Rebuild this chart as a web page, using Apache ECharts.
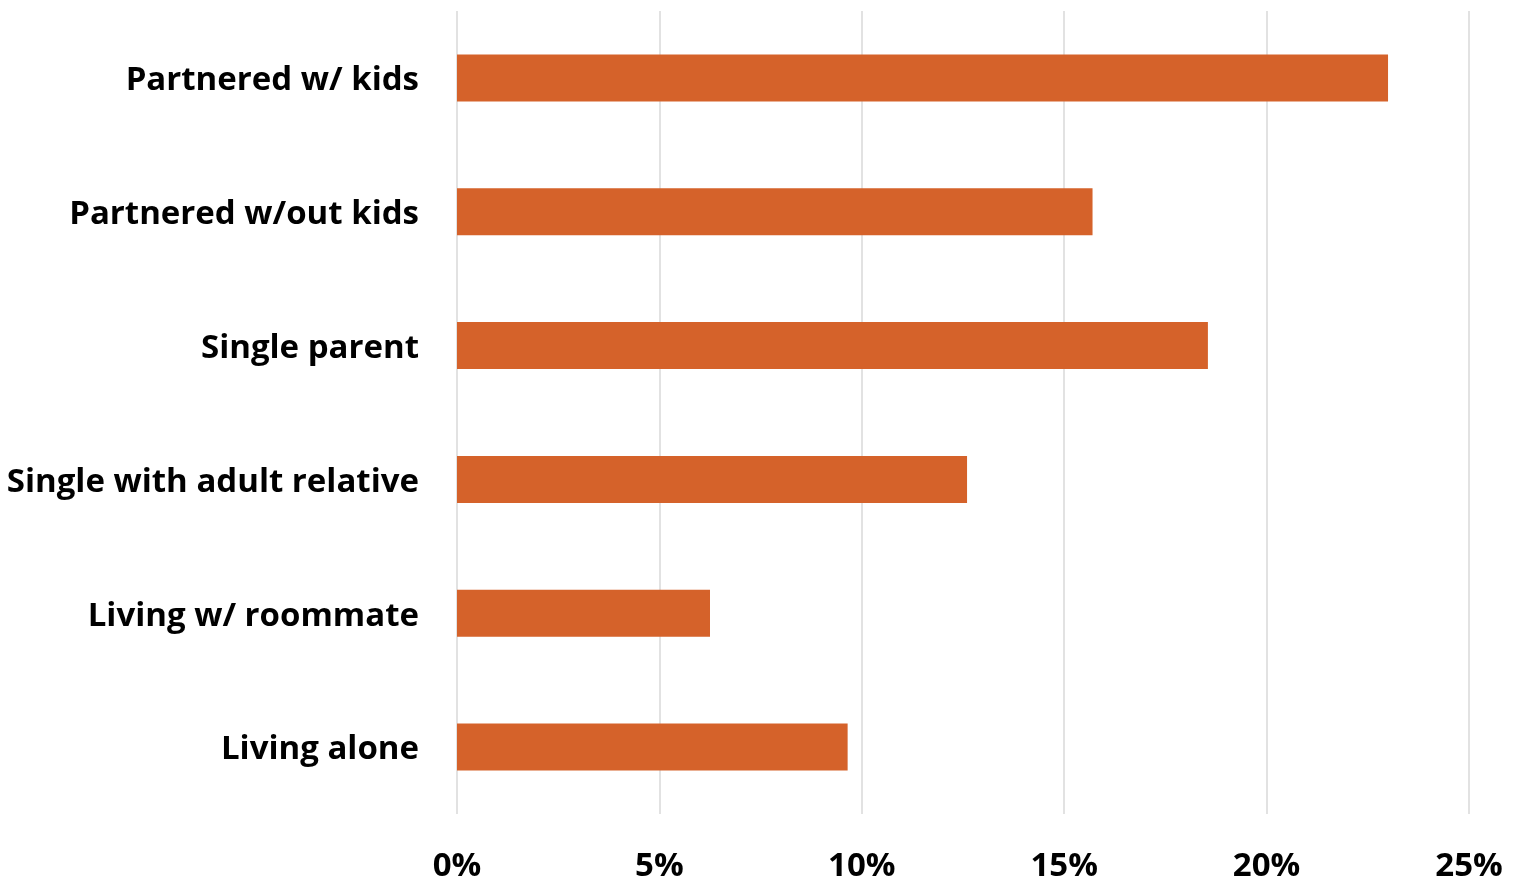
<!DOCTYPE html>
<html>
<head>
<meta charset="utf-8">
<script src="https://cdn.jsdelivr.net/npm/echarts@6/dist/echarts.min.js"></script>
<style>
  html, body { margin: 0; padding: 0; background: #fff; }
  #chart { width: 1522px; height: 884px; }
</style>
</head>
<body>
<div id="chart"></div>
<script>
// Household types and their shares (percent)
const categories = [
  'Partnered w/ kids',
  'Partnered w/out kids',
  'Single parent',
  'Single with adult relative',
  'Living w/ roommate',
  'Living alone'
];
const shares = [23.0, 15.7, 18.55, 12.6, 6.25, 9.65];
const tickStep = 5;
const axisMax = 25;

const font = '"Open Sans", Lato, sans-serif';
const chart = echarts.init(document.getElementById('chart'));
chart.setOption({
  animation: false,
  grid: { left: 457, right: 53, top: 11, bottom: 70, containLabel: false },
  xAxis: {
    type: 'value',
    min: 0,
    max: axisMax,
    interval: tickStep,
    axisLine: { show: false },
    axisTick: { show: false },
    splitLine: { show: true, lineStyle: { color: '#d9d9d9', width: 1.5 } },
    axisLabel: {
      formatter: v => v + '%',
      color: '#000',
      fontFamily: font,
      fontWeight: 'bold',
      fontSize: 33,
      margin: 36
    }
  },
  yAxis: {
    type: 'category',
    data: categories,
    inverse: true,
    axisLine: { show: false },
    axisTick: { show: false },
    axisLabel: {
      color: '#000',
      fontFamily: font,
      fontWeight: 'bold',
      fontSize: 33,
      margin: 38,
      formatter: v => '{c|' + v + '}',
      rich: {
        c: {
          color: '#000',
          fontFamily: font,
          fontWeight: 'bold',
          fontSize: 33,
          padding: [6, 0, 0, 0]
        }
      }
    }
  },
  series: [{
    type: 'bar',
    data: shares,
    barWidth: 47,
    itemStyle: { color: '#D5622A' }
  }]
});
</script>
</body>
</html>
